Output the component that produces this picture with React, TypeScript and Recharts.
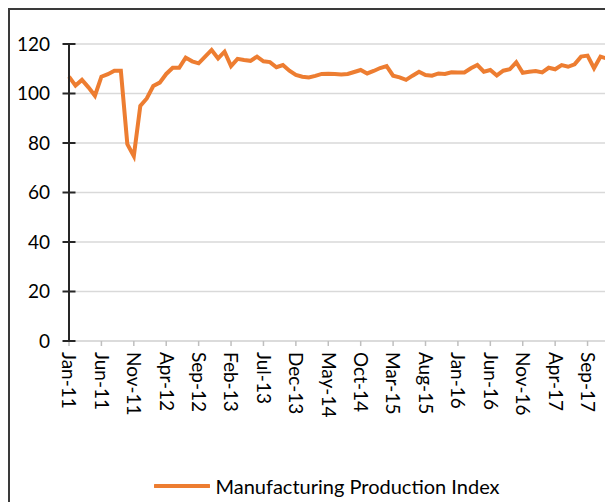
import React from "react";
import { LineChart, Line, XAxis, YAxis, CartesianGrid, Legend } from "recharts";

const months: string[] = [
  "Jan-11","Feb-11","Mar-11","Apr-11","May-11","Jun-11","Jul-11","Aug-11","Sep-11","Oct-11","Nov-11","Dec-11",
  "Jan-12","Feb-12","Mar-12","Apr-12","May-12","Jun-12","Jul-12","Aug-12","Sep-12","Oct-12","Nov-12","Dec-12",
  "Jan-13","Feb-13","Mar-13","Apr-13","May-13","Jun-13","Jul-13","Aug-13","Sep-13","Oct-13","Nov-13","Dec-13",
  "Jan-14","Feb-14","Mar-14","Apr-14","May-14","Jun-14","Jul-14","Aug-14","Sep-14","Oct-14","Nov-14","Dec-14",
  "Jan-15","Feb-15","Mar-15","Apr-15","May-15","Jun-15","Jul-15","Aug-15","Sep-15","Oct-15","Nov-15","Dec-15",
  "Jan-16","Feb-16","Mar-16","Apr-16","May-16","Jun-16","Jul-16","Aug-16","Sep-16","Oct-16","Nov-16","Dec-16",
  "Jan-17","Feb-17","Mar-17","Apr-17","May-17","Jun-17","Jul-17","Aug-17","Sep-17","Oct-17","Nov-17","Dec-17",
];

const productionIndex: number[] = [
  106.8, 103.2, 105.5, 102.5, 99.1, 106.8, 107.8, 109.2, 109.2, 79.5, 74.7, 95.0,
  98.0, 103.0, 104.4, 107.9, 110.4, 110.4, 114.5, 113.0, 112.2, 114.9, 117.6, 114.2,
  116.9, 111.1, 114.0, 113.5, 113.2, 114.9, 113.0, 112.7, 110.6, 111.5, 109.2, 107.5,
  106.8, 106.5, 107.1, 107.9, 108.0, 107.9, 107.7, 107.9, 108.7, 109.5, 108.1, 109.1,
  110.3, 111.1, 107.2, 106.5, 105.5, 107.2, 108.8, 107.5, 107.2, 108.1, 107.9, 108.6,
  108.5, 108.5, 110.2, 111.5, 108.8, 109.5, 107.3, 109.2, 109.8, 112.6, 108.4, 108.8,
  109.1, 108.5, 110.4, 109.8, 111.5, 110.8, 111.8, 114.9, 115.3, 110.2, 114.9, 114.1,
];

const yTicks: number[] = [0, 20, 40, 60, 80, 100, 120];
const seriesName = "Manufacturing Production Index";

const data = months.map((m, i) => ({ month: m, value: productionIndex[i] }));

const FONT = "Lato, 'Liberation Sans', sans-serif";
const ORANGE = "#ED7D31";

const YTick = (props: any) => {
  const { x, y, payload } = props;
  return (
    <g>
      <line x1={x - 6.5} x2={x + 6.5} y1={y} y2={y} stroke="#262626" strokeWidth={2} />
      <text x={x - 19} y={y} dy="0.35em" textAnchor="end" fontSize={19} fill="#000" fontFamily={FONT}>
        {payload.value}
      </text>
    </g>
  );
};

const XTick = (props: any) => {
  const { x, y, payload } = props;
  return (
    <text
      x={x}
      y={y}
      dy="0.35em"
      textAnchor="start"
      fontSize={19}
      fill="#000"
      fontFamily={FONT}
      transform={`rotate(90, ${x}, ${y})`}
    >
      {payload.value}
    </text>
  );
};

const LegendContent = () => (
  <div style={{ display: "flex", alignItems: "center", justifyContent: "center", height: 24, paddingLeft: 28, fontFamily: FONT }}>
    <svg width={56} height={8} style={{ marginRight: 5 }}>
      <line x1={1} x2={55} y1={4} y2={4} stroke={ORANGE} strokeWidth={4} strokeLinecap="round" />
    </svg>
    <span style={{ fontSize: 20, color: "#000" }}>{seriesName}</span>
  </div>
);

export default function App() {
  return (
    <div
      style={{
        width: 603,
        height: 492,
        borderTop: "2px solid #3a3a3a",
        borderLeft: "2px solid #3a3a3a",
        background: "#fff",
        overflow: "hidden",
      }}
    >
      <LineChart width={603} height={492} data={data} margin={{ top: 34, right: 6, left: 9, bottom: 4 }}>
        <CartesianGrid vertical={false} stroke="#D9D9D9" strokeWidth={1.5} />
        <XAxis
          dataKey="month"
          interval={4}
          height={133}
          tickSize={5}
          tickMargin={6}
          axisLine={{ stroke: "#D9D9D9", strokeWidth: 1.5 }}
          tickLine={{ stroke: "#BFBFBF", strokeWidth: 1.5 }}
          tick={<XTick />}
        />
        <YAxis
          domain={[0, 120]}
          ticks={yTicks}
          width={50}
          tickSize={0}
          tickMargin={0}
          tickLine={false}
          axisLine={{ stroke: "#262626", strokeWidth: 2 }}
          tick={<YTick />}
        />
        <Line
          type="linear"
          dataKey="value"
          name={seriesName}
          stroke={ORANGE}
          strokeWidth={4}
          dot={false}
          isAnimationActive={false}
        />
        <Legend verticalAlign="bottom" content={<LegendContent />} />
      </LineChart>
    </div>
  );
}
